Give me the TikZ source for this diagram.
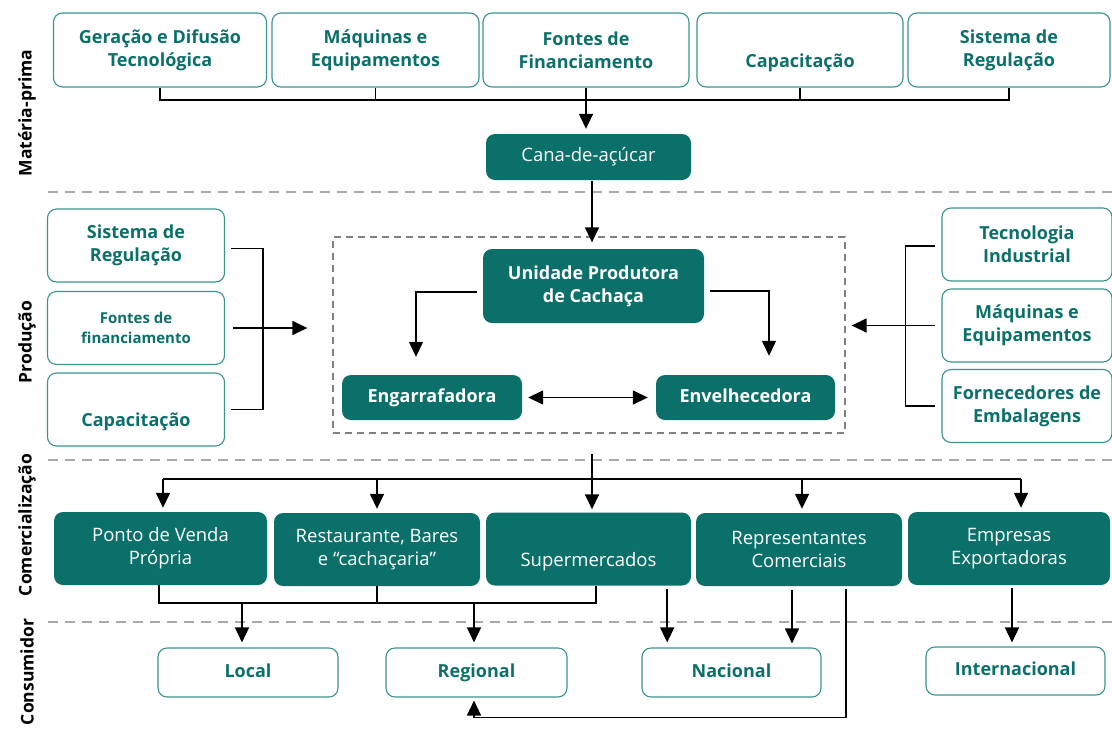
\documentclass[tikz,border=0pt]{standalone}
\usepackage{fontspec}
\setmainfont{Open Sans}
\usetikzlibrary{arrows.meta,positioning}
\definecolor{tealdark}{HTML}{0C706A}
\definecolor{tealline}{HTML}{3A948B}
\definecolor{sepgray}{HTML}{A9A9A9}
\begin{document}
\begin{tikzpicture}
[x=1pt,y=-1pt,>={Triangle[length=15pt,width=14pt]},
 darkbox/.style={fill=tealdark,rounded corners=9pt,text=white,align=center,inner sep=0pt,font=\fontsize{18.5}{23}\selectfont},
 boldbox/.style={darkbox,font=\bfseries\fontsize{18}{23}\selectfont},
 lightbox/.style={draw=tealline,line width=1.1pt,fill=white,rounded corners=9pt,text=tealdark,align=center,inner sep=0pt,font=\bfseries\fontsize{18}{23}\selectfont},
 sep/.style={sepgray,line width=2.4pt,dash pattern=on 10pt off 7pt},
 link/.style={black,line width=1.5pt},
 side/.style={rotate=90,font=\bfseries\fontsize{17.5}{20}\selectfont}]

\useasboundingbox (0,0) rectangle (1112,729);

% the section separators
\draw[sep] (48,192) -- (1112,192);
\draw[sep] (48,460) -- (1112,460);
\draw[sep] (48,622) -- (1112,622);

% the section labels
\node[side] (lmat) at (27,113) {Matéria-prima};
\node[side] (lprod) at (27,342) {Produção};
\node[side] (lcom) at (27,525) {Comercialização};
\node[side] (lcons) at (27,672) {Consumidor};

%% Matéria-prima
\node[lightbox,minimum width=213,minimum height=74] (gera) at (160,50) {Geração e Difusão\\Tecnológica};
\node[lightbox,minimum width=207,minimum height=74] (maq) at (375.5,50) {Máquinas e\\Equipamentos};
\node[lightbox,minimum width=206,minimum height=74] (font) at (586,50) {Fontes de\\Financiamento};
\node[lightbox,minimum width=206,minimum height=74] (capa) at (800,50) {\strut\\Capacitação};
\node[lightbox,minimum width=202,minimum height=74] (regu) at (1009,50) {Sistema de\\Regulação};
\node[darkbox,minimum width=205,minimum height=46] (cana) at (588.5,157) {\strut Cana-de-açúcar};

\coordinate (tbar) at (0,100);
\draw[link] (gera.south) -- (gera.south |- tbar) -- (regu.south |- tbar) -- (regu.south);
\foreach \b in {maq,capa}
  \draw[link] (\b.south) -- (\b.south |- tbar);
\draw[link,->,shorten >=5pt] (font.south) -- (font.south |- cana.north);

%% Produção
\node[draw=black!50,line width=1.3pt,dash pattern=on 7pt off 5pt,minimum width=512,minimum height=196] (frame) at (589,335) {};
\node[boldbox,minimum width=221,minimum height=74] (unid) at (593.5,286) {Unidade Produtora\\de Cachaça};
\node[boldbox,minimum width=180,minimum height=45] (engar) at (432,397.5) {\strut Engarrafadora};
\node[boldbox,minimum width=179,minimum height=45] (envel) at (745.5,397.5) {\strut Envelhecedora};

\draw[link,->] ([yshift=-1pt]cana.south -| frame.north) ++(3pt,0) -- ([xshift=3pt,yshift=-6pt]frame.north);
\draw[link,line width=1.2pt,->] ([xshift=-6pt,yshift=-6pt]unid.west) -| ([xshift=-16pt,yshift=18pt]engar.north);
\draw[link,line width=1.2pt,->] ([xshift=6pt,yshift=-5pt]unid.east) -| ([xshift=23.5pt,yshift=19pt]envel.north);
\draw[link,<->] ([xshift=6pt]engar.east) -- ([xshift=-8pt]envel.west);

% the boxes at the left
\node[lightbox,minimum width=177,minimum height=73] (lreg) at (136,245.5) {Sistema de\\Regulação};
\node[lightbox,minimum width=177,minimum height=73,font=\bfseries\fontsize{15}{20}\selectfont] (lfin) at (136,328) {Fontes de\\financiamento};
\node[lightbox,minimum width=177,minimum height=73] (lcap) at (136,409.5) {\strut\\Capacitação};
\draw[link] ([xshift=6pt,yshift=-3pt]lreg.east) -| ([xshift=38pt]lcap.east) -- ([xshift=6pt]lcap.east);
\draw[link,->,shorten >=25pt] ([xshift=8pt]lfin.east) -- (lfin.east -| frame.west);

% the boxes at the right
\node[lightbox,minimum width=170,minimum height=73] (rtec) at (1027,244.5) {Tecnologia\\Industrial};
\node[lightbox,minimum width=170,minimum height=73] (rmaq) at (1027,325.5) {Máquinas e\\Equipamentos};
\node[lightbox,minimum width=170,minimum height=73] (rfor) at (1027,406) {Fornecedores de\\Embalagens};
\draw[link] ([xshift=-6pt,yshift=-1.5pt]rtec.west) -| ([xshift=-36pt]rfor.west) -- ++(30pt,0);
\draw[link,->,shorten >=6pt] ([xshift=-6pt]rmaq.west) -- (rmaq.west -| frame.east);

%% Comercialização
\node[darkbox,minimum width=213,minimum height=73] (ponto) at (160.5,548.5) {Ponto de Venda\\Própria};
\node[darkbox,minimum width=206,minimum height=73] (rest) at (377,549.5) {Restaurante, Bares\\e “cachaçaria”};
\node[darkbox,minimum width=205,minimum height=73] (super) at (588.5,549) {\strut\\Supermercados};
\node[darkbox,minimum width=206,minimum height=73] (repr) at (799,549.5) {Representantes\\Comerciais};
\node[darkbox,minimum width=202,minimum height=73] (expo) at (1009,548.5) {Empresas\\Exportadoras};

\coordinate (cbar) at (0,479);
\draw[link,->,shorten >=3pt] ([xshift=3pt,yshift=-20pt]frame.south) -- ([xshift=3pt]frame.south |- super.north);
\draw[link] ([xshift=2.5pt]ponto.north |- cbar) -- ([xshift=12pt]expo.north |- cbar);
\foreach \b/\s in {ponto/2.5,rest/0,repr/3,expo/12}
  \draw[link,->,shorten >=4pt] ([xshift=\s pt]\b.north |- cbar) -- ([xshift=\s pt]\b.north);

%% Consumidor
\node[lightbox,minimum width=180,minimum height=49] (local) at (248,672.5) {\strut Local};
\node[lightbox,minimum width=181,minimum height=49] (regi) at (476.5,672.5) {\strut Regional};
\node[lightbox,minimum width=179,minimum height=49] (naci) at (731.5,672.5) {\strut Nacional};
\node[lightbox,minimum width=179,minimum height=48] (inter) at (1015.5,671) {\strut Internacional};

\coordinate (bbar) at (0,603);
\draw[link] ([xshift=-1.5pt]ponto.south) -- ([xshift=-1.5pt]ponto.south |- bbar) -- ([xshift=7.5pt]super.south |- bbar) -- ([xshift=7.5pt]super.south);
\draw[link] (rest.south) -- (rest.south |- bbar);
\draw[link,->,shorten >=5pt] ([xshift=-6pt]local.north |- bbar) -- ([xshift=-6pt]local.north);
\draw[link,->,shorten >=5pt] ([xshift=-2.5pt]regi.north |- bbar) -- ([xshift=-2.5pt]regi.north);
\draw[link,->,shorten >=5pt] ([xshift=-24pt,yshift=-3pt]super.south east) -- ([xshift=-24pt]super.south east |- naci.north);
\draw[link,->,shorten >=4pt] ([xshift=-7pt,yshift=-4pt]repr.south) -- ([xshift=-7pt]repr.south |- naci.north);
\draw[link,->] ([xshift=-56pt,yshift=-3pt]repr.south east) |- ([xshift=-2.5pt,yshift=-20pt]regi.south) -- ([xshift=-2.5pt,yshift=-3pt]regi.south);
\draw[link,->,shorten >=4pt] ([xshift=3pt,yshift=-3pt]expo.south) -- ([xshift=3pt]expo.south |- inter.north);

\end{tikzpicture}
\end{document}
